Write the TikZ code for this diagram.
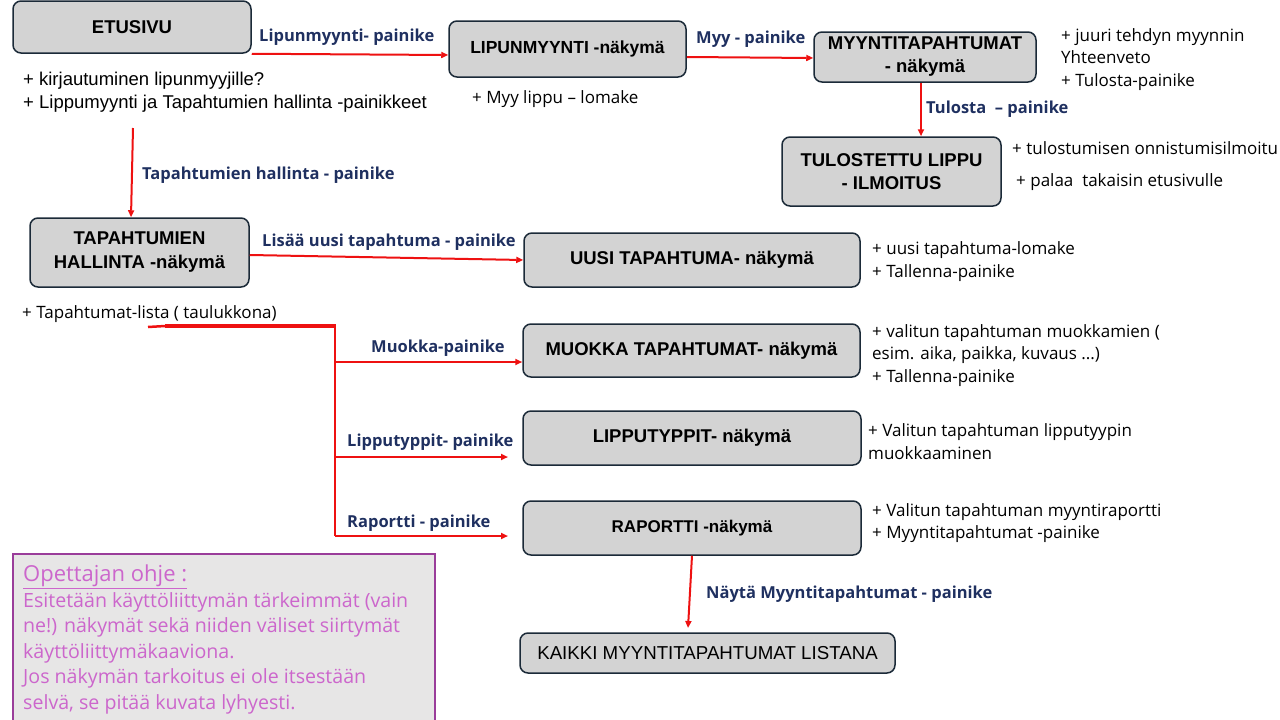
\documentclass[tikz,border=0pt]{standalone}
\usepackage{fontspec}
\setmainfont{Liberation Sans}
\newfontfamily\apt{Open Sans}
\usetikzlibrary{arrows.meta,calc}
\definecolor{boxfill}{HTML}{D3D3D3}
\definecolor{boxdraw}{HTML}{1B2A38}
\definecolor{arrred}{HTML}{EE1111}
\definecolor{navy}{HTML}{1F3060}
\definecolor{notetext}{HTML}{CC66CC}
\definecolor{notefill}{HTML}{E7E6E6}
\definecolor{noteborder}{HTML}{9A3D9A}
\tikzset{
  view/.style={draw=boxdraw, fill=boxfill, line width=1.5pt, rounded corners=8pt,
    font=\bfseries\fontsize{18.5}{23}\selectfont, align=center, inner sep=0pt},
  trans/.style={draw=arrred, line width=2pt, -{Triangle[length=7pt,width=6pt]}},
  lbl/.style={font=\apt\bfseries\fontsize{16.5}{18}\selectfont, text=navy, anchor=west, inner sep=0pt, yshift=-2pt},
  ann/.style={font=\apt\fontsize{17}{22.8}\selectfont, anchor=west, align=left, inner sep=0pt, yshift=-2pt},
  annarial/.style={font=\fontsize{18.5}{23}\selectfont, anchor=west, align=left, inner sep=0pt, yshift=-2.5pt},
}
\begin{document}
\begin{tikzpicture}[x=1pt,y=-1pt]
\useasboundingbox (0,0) rectangle (1280,720);

% views
\node[view, minimum width=238pt, minimum height=52pt] (etu) at (132,27) {ETUSIVU};
\node[view, minimum width=237pt, minimum height=56pt, font=\bfseries\fontsize{17.5}{21}\selectfont] (lip) at (567.5,49) {LIPUNMYYNTI -näkymä};
\node[view, minimum width=222pt, minimum height=50pt, font=\bfseries\fontsize{18.5}{23}\selectfont] (myy) at (925,57) {MYYNTITAPAHTUMAT\\- näkymä};
\node[view, minimum width=219pt, minimum height=69pt] (tul) at (891.5,171.5) {TULOSTETTU LIPPU\\- ILMOITUS};
\node[view, minimum width=219pt, minimum height=69pt, font=\bfseries\fontsize{18.5}{24}\selectfont] (tap) at (139.5,252.5) {TAPAHTUMIEN\\HALLINTA -näkymä};
\node[view, minimum width=336pt, minimum height=54pt] (uusi) at (692,260) {UUSI TAPAHTUMA- näkymä};
\node[view, minimum width=337pt, minimum height=53pt] (muok) at (691.5,350.5) {MUOKKA TAPAHTUMAT- näkymä};
\node[view, minimum width=338pt, minimum height=54pt] (lipt) at (692,438) {LIPPUTYPPIT- näkymä};
\node[view, minimum width=338pt, minimum height=54pt, font=\bfseries\fontsize{17}{20}\selectfont] (rap) at (692,528) {RAPORTTI -näkymä};
\node[view, minimum width=375pt, minimum height=40pt, font=\fontsize{18.7}{22}\selectfont] (kaikki) at (707.5,653) {KAIKKI MYYNTITAPAHTUMAT LISTANA};

% transitions
\draw[trans] (etu.south east) -- ($(lip.west)+(0,6)$);
\node[lbl] (l1) at (259,35) {Lipunmyynti- painike};

\draw[trans] ($(lip.east)+(0,8)$) -- ($(myy.west)+(0,1)$);
\node[lbl] (l2) at (696,37) {Myy - painike};

\draw[trans] ($(myy.south)+(-4,0)$) -- ($(tul.north)+(29.5,0)$);
\node[lbl] (l3) at (926,107) {Tulosta~~– painike};

\coordinate (etuout) at (133,128);
\draw[trans] (etuout) -- ($(tap.north)+(-8.5,0)$);
\node[lbl] (l4) at (142,173) {Tapahtumien hallinta - painike};

\draw[trans] ($(tap.east)+(0,2.5)$) -- (uusi.west);
\node[lbl] (l5) at (262,240) {Lisää uusi tapahtuma - painike};

% branching bracket
\coordinate (bs) at (148,327);
\coordinate (bm) at (165,326);
\coordinate (bc) at (335,326);
\coordinate (bb) at (335,536);
\coordinate (b1) at (335,362);
\coordinate (b2) at (335,457);
\coordinate (e2) at (508,457);
\coordinate (e3) at (508,536);
\draw[arrred, line width=2.5pt] (bs) -- (bm);
\draw[arrred, line width=3.5pt] (bm) -- (bc);
\draw[arrred, line width=2.5pt] ($(bc)+(0,-1.75)$) -- (bb);
\draw[trans] (b1) -- (b1 -| muok.west);
\draw[trans] (b2) -- (e2);
\draw[trans] (bb) -- (e3);
\node[lbl] (l6) at (371,346) {Muokka-painike};
\node[lbl] (l7) at (347,440) {Lipputyppit- painike};
\node[lbl] (l8) at (347,521) {Raportti - painike};

\coordinate (e4) at (688,628);
\draw[trans] (rap.south) -- (e4);
\node[lbl] (l9) at (706,592) {Näytä Myyntitapahtumat - painike};

% annotations
\node[annarial] (a1) at (23,89.5) {+ kirjautuminen lipunmyyjille?\\+ Lippumyynti ja Tapahtumien hallinta -painikkeet};
\node[ann] (a2) at (472,97) {+ Myy lippu – lomake};
\node[ann] (a3) at (1061,57.5) {+ juuri tehdyn myynnin\\Yhteenveto\\+ Tulosta-painike};
\node[ann] (a4) at (1012,146.5) {+ tulostumisen onnistumisilmoitu};
\node[ann] (a5) at (1016,180) {+ palaa~~takaisin etusivulle};
\node[ann] (a6) at (22,312) {+ Tapahtumat-lista ( taulukkona)};
\node[ann] (a7) at (872,259.5) {+ uusi tapahtuma-lomake\\+ Tallenna-painike};
\node[ann] (a8) at (872,353.5) {+ valitun tapahtuman muokkamien (\\esim. aika, paikka, kuvaus ...)\\+ Tallenna-painike};
\node[ann] (a9) at (868,439.5) {+ Valitun tapahtuman lipputyypin\\muokkaaminen};
\node[ann] (a10) at (872,521) {+ Valitun tapahtuman myyntiraportti\\+ Myyntitapahtumat -painike};

% teacher's note
\draw[draw=noteborder, fill=notefill, line width=1.5pt] (13,554) rectangle (435,724);
\node[anchor=west, inner sep=0pt, text=notetext, font=\apt\fontsize{22}{24}\selectfont] (nt) at (23,577) {\underline{Opettajan ohje :}};
\node[anchor=north west, inner sep=0pt, align=left, text=notetext, font=\apt\fontsize{19.6}{25.5}\selectfont] (nb) at (23,592) {Esitetään käyttöliittymän tärkeimmät (vain\\ne!) näkymät sekä niiden väliset siirtymät\\käyttöliittymäkaaviona.\\Jos näkymän tarkoitus ei ole itsestään\\selvä, se pitää kuvata lyhyesti.};
\end{tikzpicture}
\end{document}
